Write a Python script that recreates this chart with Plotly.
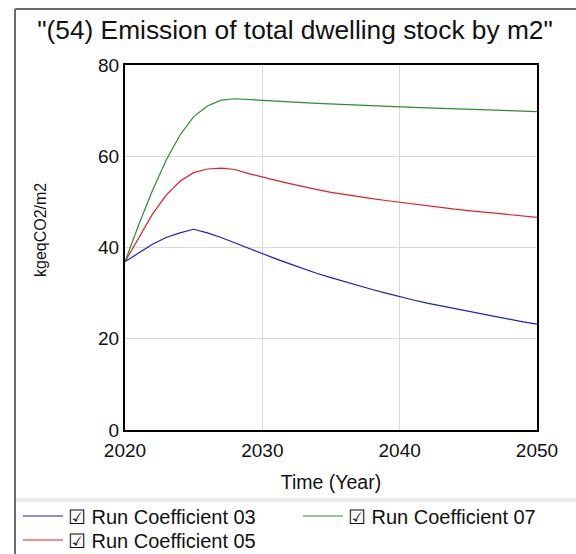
import plotly.graph_objects as go

years = list(range(2020, 2051))

coef_03 = [36.9, 38.8, 40.7, 42.2, 43.2, 44.0, 43.2, 42.2, 41.0, 39.8,
           38.6, 37.5, 36.4, 35.3, 34.3, 33.4, 32.5, 31.6, 30.8, 30.0,
           29.2, 28.5, 27.8, 27.2, 26.6, 26.0, 25.4, 24.8, 24.2, 23.7, 23.2]
coef_05 = [36.9, 42.0, 47.3, 51.5, 54.5, 56.4, 57.2, 57.4, 57.1, 56.2,
           55.4, 54.7, 54.0, 53.3, 52.7, 52.1, 51.6, 51.1, 50.7, 50.3,
           49.9, 49.5, 49.1, 48.8, 48.4, 48.1, 47.8, 47.5, 47.2, 46.9, 46.6]
coef_07 = [36.9, 45.0, 52.5, 59.2, 64.6, 68.7, 71.0, 72.3, 72.6, 72.4,
           72.2, 72.05, 71.9, 71.75, 71.6, 71.45, 71.3, 71.2, 71.05, 70.95,
           70.8, 70.7, 70.6, 70.5, 70.4, 70.3, 70.2, 70.1, 70.0, 69.9, 69.8]

series_names = ["\u2611 Run Coefficient 03", "\u2611 Run Coefficient 05", "\u2611 Run Coefficient 07"]
series_colors = ["#1f1fbf", "#e0202a", "#2e8b2e"]
series_legends = ["legend", "legend2", "legend3"]

x_ticks = [2020, 2030, 2040, 2050]
y_ticks = [0, 20, 40, 60, 80]

FONT = "Liberation Sans, Arial, sans-serif"

fig = go.Figure()
for name, vals, col, lg in zip(series_names, [coef_03, coef_05, coef_07], series_colors, series_legends):
    fig.add_trace(go.Scatter(x=years, y=vals, mode="lines", name=name,
                             line=dict(color=col, width=1.2), legend=lg))

W, H = 576, 554
L, R, T, B = 125, 39, 65, 124
pw, ph = W - L - R, H - T - B

def px_x(x):
    return (x - L) / pw

def px_y(y):
    return (H - B - y) / ph

legend_font = dict(size=20, family=FONT, color="#111111")

def legend_at(xpx, ypx):
    return dict(orientation="v", x=px_x(xpx), y=px_y(ypx), xanchor="left", yanchor="middle",
                font=legend_font, itemwidth=40, tracegroupgap=0,
                bgcolor="rgba(0,0,0,0)")

fig.update_layout(
    width=W, height=H,
    margin=dict(l=L, r=R, t=T, b=B, autoexpand=False),
    paper_bgcolor="white", plot_bgcolor="white",
    font=dict(family=FONT, color="#111111", size=17),
    title=dict(text='"(54) Emission of total dwelling stock by m2"',
               x=295 / W, xanchor="center", y=1 - 30 / H, yanchor="middle",
               xref="container", yref="container",
               font=dict(size=26.3, family=FONT, color="#111111")),
    showlegend=True,
    legend=legend_at(18, 516),
    legend2=legend_at(18, 540),
    legend3=legend_at(298, 516),
    xaxis=dict(range=[2020, 2050], tickvals=x_ticks, ticktext=[str(v) for v in x_ticks],
               showgrid=True, gridcolor="#d9d9d9", gridwidth=1,
               showline=True, linecolor="black", linewidth=2, mirror=True,
               ticks="", tickfont=dict(size=19), zeroline=False, ticklabelstandoff=2,
               title=dict(text="Time (Year)", font=dict(size=19.5), standoff=16)),
    yaxis=dict(range=[0, 80], tickvals=y_ticks,
               showgrid=True, gridcolor="#d9d9d9", gridwidth=1,
               showline=True, linecolor="black", linewidth=2, mirror=True,
               ticks="", tickfont=dict(size=19), zeroline=False),
    annotations=[dict(text="kgeqCO2/m2", textangle=-90, xref="paper", yref="paper",
                      x=px_x(40), y=px_y(230), xanchor="center", yanchor="middle",
                      showarrow=False, font=dict(size=16, family=FONT, color="#111111"))],
    shapes=[
        dict(type="line", xref="paper", yref="paper", x0=px_x(15), x1=px_x(15),
             y0=px_y(9), y1=px_y(H + 5), line=dict(color="#6a6a6a", width=2)),
        dict(type="line", xref="paper", yref="paper", x0=px_x(15), x1=px_x(W + 5),
             y0=px_y(9), y1=px_y(9), line=dict(color="#6a6a6a", width=2)),
        dict(type="line", xref="paper", yref="paper", x0=px_x(16), x1=px_x(W + 5),
             y0=px_y(500), y1=px_y(500), line=dict(color="#ebebeb", width=4)),
    ],
)

fig.write_html("out.html", config={"displayModeBar": False},
               post_script="document.body.style.margin='0';document.body.style.overflow='hidden';")
